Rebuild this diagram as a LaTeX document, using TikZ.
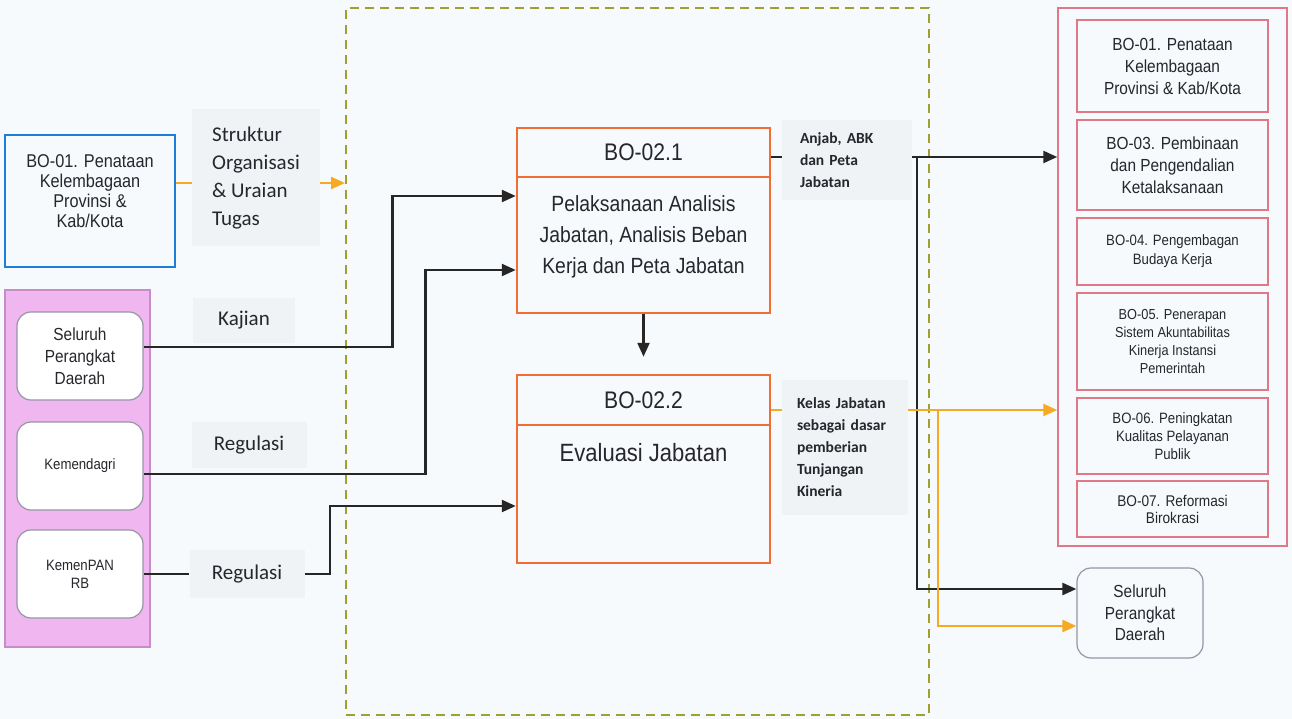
\documentclass[tikz,border=0pt]{standalone}
\usepackage{fontspec}
\setmainfont{Liberation Sans}[FakeStretch=0.88]
\newfontfamily\calib{Carlito}
\usetikzlibrary{arrows.meta}
\definecolor{bgcol}{RGB}{247,250,252}
\definecolor{lblfill}{RGB}{240,243,245}
\definecolor{txtcol}{RGB}{38,38,44}
\definecolor{orgbox}{RGB}{240,110,50}
\definecolor{orgarrow}{RGB}{245,170,35}
\definecolor{areacol}{RGB}{160,160,50}
\definecolor{bluecol}{RGB}{30,125,215}
\definecolor{pinkfill}{RGB}{240,182,240}
\definecolor{pinkdraw}{RGB}{200,140,200}
\definecolor{redbox}{RGB}{225,120,135}
\definecolor{grayline}{RGB}{150,150,165}
\newcommand{\fsz}[2]{\fontsize{#1}{#2}\selectfont}

\begin{document}
\begin{tikzpicture}[x=1pt,y=-1pt,
  every node/.style={text=txtcol},
  procbox/.style={draw=orgbox,line width=2.5pt,minimum width=253pt,inner sep=0pt},
  rbox/.style={draw=redbox,line width=1.5pt,minimum width=191pt,align=center,inner sep=0pt},
  ibox/.style={draw=grayline,fill=white,rounded corners=14pt,line width=1.2pt,minimum width=126pt,minimum height=88pt,align=center,inner sep=0pt},
  lbl/.style={fill=lblfill,inner sep=0pt},
  conn/.style={line width=2.4pt,draw=black!85},
  arr/.style={conn,-{Triangle[length=14pt,width=12pt]}},
  oconn/.style={line width=2.4pt,draw=orgarrow},
  oarr/.style={oconn,-{Triangle[length=14pt,width=12pt]}}]
\fill[bgcol] (0,0) rectangle (1292,719);
\useasboundingbox (0,0) rectangle (1292,719);
% process area
\node[draw=areacol,line width=2pt,dash pattern=on 9pt off 6pt,minimum width=583pt,minimum height=707pt] (area) at (637.5,361.5) {};
% inputs
\node[draw=bluecol,line width=2.5pt,minimum width=170pt,minimum height=132pt] (bo01l) at (90,201) {};
\node[align=center,font=\fsz{18.5}{20}] (bo01ltxt) at (90,191) {BO-01. Penataan\\Kelembagaan\\Provinsi \&\\Kab/Kota};
\node[lbl,minimum width=128pt,minimum height=137pt,align=left,font=\calib\fsz{21}{28}] (struk) at (256,178) {Struktur\\Organisasi\\\& Uraian\\Tugas};
\node[draw=pinkdraw,fill=pinkfill,line width=1.5pt,minimum width=145pt,minimum height=357pt] (instansi) at (77.5,468.5) {};
\node[ibox,font=\fsz{17.5}{22}] (seluruhl) at (80,356) {Seluruh\\Perangkat\\Daerah};
\node[ibox,font=\fsz{15}{18}] (kemendagri) at (80,466) {Kemendagri};
\node[ibox,font=\fsz{15}{18}] (kemenpan) at (80,574) {KemenPAN\\RB};
\node[lbl,minimum width=102pt,minimum height=45pt,font=\calib\fsz{21}{26}] (kajian) at (244,320) {Kajian};
\node[lbl,minimum width=115pt,minimum height=46pt,font=\calib\fsz{21}{26}] (regul1) at (249,445) {Regulasi};
\node[lbl,minimum width=115pt,minimum height=48pt,font=\calib\fsz{21}{26}] (regul2) at (247,574) {Regulasi};
% BO-02 boxes
\node[procbox,minimum height=49pt,font=\fsz{24}{28}] (bo21h) at (643.5,152.5) {BO-02.1};
\node[procbox,minimum height=136pt] (bo21b) at (643.5,245) {};
\node[align=center,font=\fsz{22}{31}] (bo21txt) at (643.5,237) {Pelaksanaan Analisis\\Jabatan, Analisis Beban\\Kerja dan Peta Jabatan};
\node[procbox,minimum height=50pt,font=\fsz{24}{28}] (bo22h) at (643.5,400) {BO-02.2};
\node[procbox,minimum height=138pt] (bo22b) at (643.5,494) {};
\node[font=\fsz{25}{30}] (bo22txt) at (643.5,453) {Evaluasi Jabatan};
% outputs
\node[lbl,minimum width=130pt,minimum height=80pt,text width=94pt,align=left,font=\calib\bfseries\fsz{15.5}{22}] (anjab) at (847,160) {Anjab, ABK\\dan Peta\\Jabatan};
\node[lbl,minimum width=126pt,minimum height=135pt,text width=96pt,align=left,font=\calib\bfseries\fsz{15.5}{22}] (kelas) at (845,447) {Kelas Jabatan\\sebagai dasar\\pemberian\\Tunjangan\\Kineria};
\node[draw=redbox,line width=1.5pt,minimum width=229pt,minimum height=538pt] (sasaran) at (1172.5,277) {};
\node[rbox,minimum height=92pt,font=\fsz{17.5}{22}] (r01) at (1172.5,66) {BO-01. Penataan\\Kelembagaan\\Provinsi \& Kab/Kota};
\node[rbox,minimum height=90pt,font=\fsz{17.5}{22}] (r03) at (1172.5,165) {BO-03. Pembinaan\\dan Pengendalian\\Ketalaksanaan};
\node[rbox,minimum height=67pt,font=\fsz{15}{19}] (r04) at (1172.5,251.5) {BO-04. Pengembagan\\Budaya Kerja};
\node[rbox,minimum height=97pt,font=\fsz{14.5}{18}] (r05) at (1172.5,341.5) {BO-05. Penerapan\\Sistem Akuntabilitas\\Kinerja Instansi\\Pemerintah};
\node[rbox,minimum height=76pt,font=\fsz{15}{18}] (r06) at (1172.5,436) {BO-06. Peningkatan\\Kualitas Pelayanan\\Publik};
\node[rbox,minimum height=56pt,font=\fsz{15.5}{17}] (r07) at (1172.5,509) {BO-07. Reformasi\\Birokrasi};
\node[ibox,fill=bgcol,minimum height=90pt,font=\fsz{17.5}{21.5}] (seluruhr) at (1140,613) {Seluruh\\Perangkat\\Daerah};
% connectors in
\draw[oconn] ([yshift=18pt]bo01l.east) -- ([yshift=18pt]bo01l.east -| struk.west);
\draw[oarr] ([yshift=-5pt]struk.east) -- ([yshift=-5pt]struk.east -| area.west);
\draw[arr] ([yshift=9pt]seluruhl.east) -- ++(249,0) |- ([yshift=49pt]bo21b.west);
\draw[arr] ([yshift=-8pt]kemendagri.east) -- ++(282,0) |- ([yshift=-25pt]bo21b.west);
\draw[conn] (kemenpan.east) -- (regul2.west);
\draw[arr] (regul2.east) -- ++(25,0) |- ([yshift=-12pt]bo22b.west);
\draw[arr,shorten >=17pt] (bo21b) -- (bo22h);
% connectors out
\draw[conn] ([yshift=-4.5pt]bo21h.east) -- ([yshift=-4.5pt]bo21h.east -| anjab.west);
\draw[arr] ([yshift=3pt]anjab.east) -- ([yshift=3pt]anjab.east -| sasaran.west);
\draw[arr] ([xshift=5pt,yshift=3pt]anjab.east) |- ([yshift=24pt]seluruhr.west);
\draw[oconn] ([yshift=-10pt]bo22h.east) -- ([yshift=-10pt]bo22h.east -| kelas.west);
\draw[oarr] ([yshift=37pt]kelas.east) -- ([yshift=37pt]kelas.east -| sasaran.west);
\draw[oarr] ([xshift=30pt,yshift=37pt]kelas.east) |- ([yshift=-13pt]seluruhr.west);
\end{tikzpicture}
\end{document}
